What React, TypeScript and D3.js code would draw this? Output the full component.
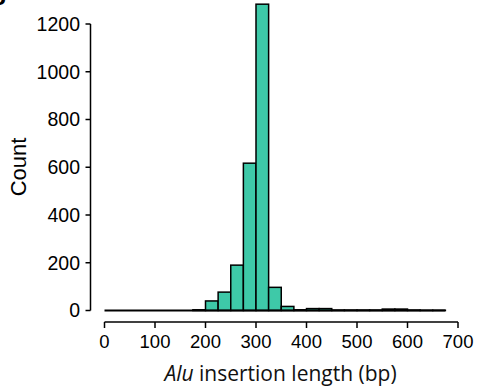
import React from "react";
import * as d3 from "d3";

const binStarts = [0,25,50,75,100,125,150,175,200,225,250,275,300,325,350,375,400,425,450,475,500,525,550,575,600,625,650];
const counts =    [0,0,0,0,0,0,0,3,40,77,190,617,1283,97,17,3,8,8,2,2,2,2,6,6,2,1,1];
const binWidth = 25;
const xTicks = [0,100,200,300,400,500,600,700];
const yTicks = [0,200,400,600,800,1000,1200];

export default function App() {
  const W = 479, H = 388;
  const x = d3.scaleLinear().domain([0, 700]).range([104.5, 458]);
  const y = d3.scaleLinear().domain([0, 1200]).range([310.5, 24]);
  const yAxisX = 90.5;
  const xAxisY = 322;
  const font = "'Liberation Sans', Arial, sans-serif";
  const lastEnd = binStarts[binStarts.length - 1] + binWidth;
  return (
    <svg width={W} height={H} style={{ position: "absolute", left: 0, top: 0 }}>
      <rect width={W} height={H} fill="#fff" />
      <text x={-9} y={0} fontFamily={font} fontWeight="bold" fontSize={26}>g</text>
      {binStarts.map((b, i) => counts[i] > 0 ? (
        <rect key={i} x={x(b)} y={y(counts[i])} width={x(b + binWidth) - x(b)}
          height={y(0) - y(counts[i])} fill="#3ec9a8" stroke="#000" strokeWidth={1.5} />
      ) : null)}
      <line x1={x(0)} x2={x(lastEnd)} y1={y(0)} y2={y(0)} stroke="#000" strokeWidth={1.8} />
      <line x1={yAxisX} x2={yAxisX} y1={y(1200)} y2={y(0)} stroke="#000" strokeWidth={1.5} />
      {yTicks.map(t => (
        <g key={t}>
          <line x1={yAxisX - 5} x2={yAxisX} y1={y(t)} y2={y(t)} stroke="#000" strokeWidth={1.5} />
          <text x={80} y={y(t)} dy="0.35em" textAnchor="end" fontFamily={font} fontSize={19.5}>{t}</text>
        </g>
      ))}
      <line x1={x(0)} x2={x(700)} y1={xAxisY} y2={xAxisY} stroke="#000" strokeWidth={1.5} />
      {xTicks.map(t => (
        <g key={t}>
          <line x1={x(t)} x2={x(t)} y1={xAxisY} y2={xAxisY + 6} stroke="#000" strokeWidth={1.5} />
          <text x={x(t)} y={348} textAnchor="middle" fontFamily={font} fontSize={18.5}>{t}</text>
        </g>
      ))}
      <text x={280.5} y={381} textAnchor="middle" fontFamily="'Open Sans', 'Noto Sans', sans-serif" fontSize={21} fill="#111">
        <tspan fontStyle="italic">Alu</tspan> insertion length (bp)
      </text>
      <text transform={`translate(26,167) rotate(-90)`} textAnchor="middle" fontFamily={font} fontSize={22}>Count</text>
    </svg>
  );
}
